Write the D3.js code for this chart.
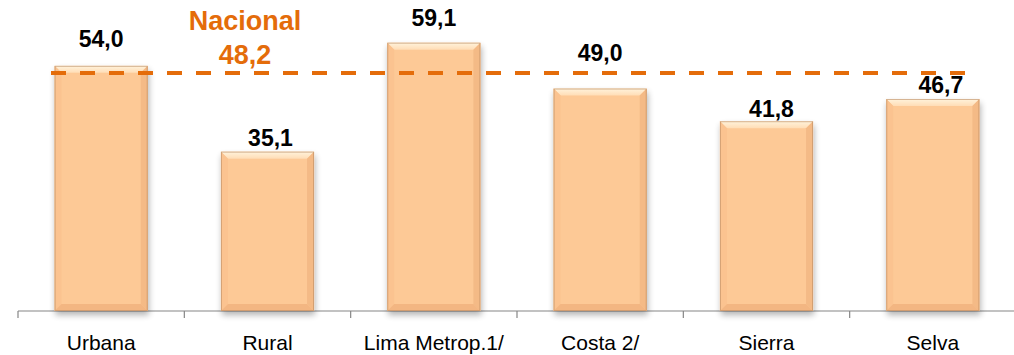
<!DOCTYPE html>
<html><head><meta charset="utf-8">
<script src="https://cdn.jsdelivr.net/npm/d3@7"></script>
<style>body{margin:0;background:#fff}svg{display:block}</style>
</head><body>
<svg id="c" width="1014" height="355"></svg>
<script>
const categories = ["Urbana","Rural","Lima Metrop.1/","Costa 2/","Sierra","Selva"];
const values = [54.0, 35.1, 59.1, 49.0, 41.8, 46.7];
const valueLabels = ["54,0","35,1","59,1","49,0","41,8","46,7"];
const nacionalValue = 48.2;
const nacionalLabel = "48,2";
const nacionalLineLevel = 52.4; // drawn level of the reference line as in the picture

// styling: label gap above bar top (px) and small x nudges
const labelGap = [19, 6, 17, 28, 4, 6];
const labelDx = [0, 3, 0, 0, 5, 8];

const svg = d3.select("#c");
const x = d3.scaleBand().domain(categories).range([18, 1016]).paddingInner(0.44).paddingOuter(0.22);
const y = d3.scaleLinear().domain([0, 68]).range([311, 311 - 68*4.54]);

const defs = svg.append("defs");
const f = defs.append("filter").attr("id","sh").attr("x","-20%").attr("y","-20%").attr("width","140%").attr("height","140%");
f.append("feGaussianBlur").attr("in","SourceAlpha").attr("stdDeviation",3).attr("result","b");
f.append("feOffset").attr("in","b").attr("dx",1).attr("dy",4).attr("result","o");
f.append("feComponentTransfer").attr("in","o").attr("result","o2").append("feFuncA").attr("type","linear").attr("slope",0.3);
const m = f.append("feMerge"); m.append("feMergeNode").attr("in","o2"); m.append("feMergeNode").attr("in","SourceGraphic");

const topGrad = defs.append("linearGradient").attr("id","tg").attr("x1",0).attr("y1",0).attr("x2",0).attr("y2",1);
topGrad.append("stop").attr("offset","0%").attr("stop-color","#FFF3DC");
topGrad.append("stop").attr("offset","100%").attr("stop-color","#FFDDB6");

// axis
const ax = svg.append("g").attr("transform","translate(0,311)");
ax.append("line").attr("x1",18).attr("x2",1014).attr("y1",0).attr("y2",0).attr("stroke","#868686").attr("stroke-width",1.2);
const tickXs = d3.range(categories.length+1).map(i => 18 + i*((1016-18)/categories.length));
ax.selectAll("line.t").data(tickXs).join("line").attr("class","t")
  .attr("x1",d=>d).attr("x2",d=>d).attr("y1",0).attr("y2",7).attr("stroke","#868686").attr("stroke-width",1.2);

// bars
const bev = 7;
const g = svg.selectAll("g.bar").data(values).join("g").attr("class","bar").attr("filter","url(#sh)");
g.each(function(d,i){
  const sel = d3.select(this);
  const x0 = x(categories[i]), w = x.bandwidth(), y0 = y(d), y1 = y(0);
  sel.append("rect").attr("x",x0).attr("y",y0).attr("width",w).attr("height",y1-y0).attr("fill","#FDC996");
  sel.append("path").attr("d",`M${x0},${y0}L${x0+w},${y0}L${x0+w-bev},${y0+bev}L${x0+bev},${y0+bev}Z`).attr("fill","url(#tg)");
  sel.append("path").attr("d",`M${x0},${y0}L${x0+bev},${y0+bev}L${x0+bev},${y1-bev}L${x0},${y1}Z`).attr("fill","#FBC390");
  sel.append("path").attr("d",`M${x0+w},${y0}L${x0+w-bev},${y0+bev}L${x0+w-bev},${y1-bev}L${x0+w},${y1}Z`).attr("fill","#F4BA86");
  sel.append("path").attr("d",`M${x0},${y1}L${x0+bev},${y1-bev}L${x0+w-bev},${y1-bev}L${x0+w},${y1}Z`).attr("fill","#F3B682");
  sel.append("rect").attr("x",x0+0.5).attr("y",y0+0.5).attr("width",w-1).attr("height",y1-y0-1).attr("fill","none").attr("stroke","#B98A62").attr("stroke-width",1).attr("stroke-opacity",0.6);
});

// value labels
svg.selectAll("text.v").data(values).join("text").attr("class","v")
  .attr("x",(d,i)=>x(categories[i])+x.bandwidth()/2+labelDx[i])
  .attr("y",(d,i)=>y(d)-labelGap[i])
  .attr("text-anchor","middle").attr("font-family","Liberation Sans, Arial, sans-serif")
  .attr("font-weight","bold").attr("font-size",23).attr("fill","#000")
  .text((d,i)=>valueLabels[i]);

// category labels
svg.selectAll("text.c").data(categories).join("text").attr("class","c")
  .attr("x",d=>x(d)+x.bandwidth()/2).attr("y",350)
  .attr("text-anchor","middle").attr("font-family","Liberation Sans, Arial, sans-serif")
  .attr("font-size",21).attr("fill","#000").text(d=>d);

// nacional line
svg.append("line").attr("x1",51).attr("x2",972).attr("y1",y(nacionalLineLevel)).attr("y2",y(nacionalLineLevel))
  .attr("stroke","#E46C0A").attr("stroke-width",4).attr("stroke-dasharray","15,14");
svg.append("text").attr("x",245).attr("y",30).attr("text-anchor","middle")
  .attr("font-family","Liberation Sans, Arial, sans-serif").attr("font-weight","bold").attr("font-size",27)
  .attr("fill","#E46C0A").text("Nacional");
svg.append("text").attr("x",245).attr("y",64).attr("text-anchor","middle")
  .attr("font-family","Liberation Sans, Arial, sans-serif").attr("font-weight","bold").attr("font-size",27)
  .attr("fill","#E46C0A").text(nacionalLabel);
</script>
</body></html>
